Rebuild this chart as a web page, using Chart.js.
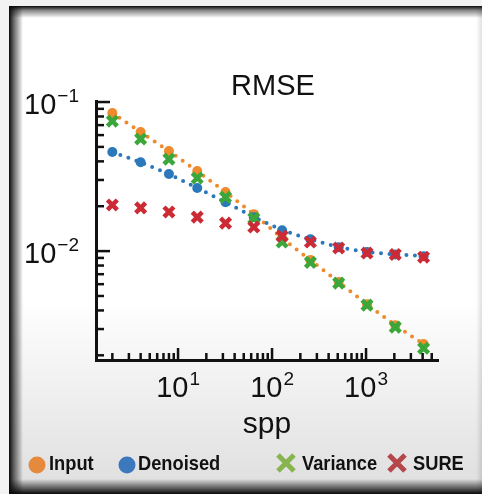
<!DOCTYPE html>
<html>
<head>
<meta charset="utf-8">
<script src="https://cdn.jsdelivr.net/npm/chart.js@4.4.1/dist/chart.umd.min.js"></script>
<style>
  html, body { margin: 0; padding: 0; background: #f3f3f3; }
  canvas { display: block; }
</style>
</head>
<body>
<canvas id="rmse" width="482" height="494"></canvas>
<script>
// samples per pixel, and RMSE per method
const spp = [2, 4, 8, 16, 32, 64, 128, 256, 512, 1024, 2048, 4096];
const inputRmse    = [0.0844, 0.0629, 0.0469, 0.0344, 0.0249, 0.0177, 0.0122, 0.0087, 0.0062, 0.0044, 0.00318, 0.00238];
const denoisedRmse = [0.0462, 0.0395, 0.0329, 0.0265, 0.0213, 0.0169, 0.0138, 0.0120, 0.0106, 0.00985, 0.0095, 0.00925];
const varianceRmse = [0.0745, 0.0565, 0.0414, 0.0309, 0.0230, 0.0166, 0.0115, 0.0084, 0.0061, 0.00434, 0.00309, 0.00223];
const sureRmse     = [0.0204, 0.0195, 0.0183, 0.0169, 0.0154, 0.0145, 0.0126, 0.0115, 0.0105, 0.0097, 0.0095, 0.0091];

const seriesNames = ['Input', 'Denoised', 'Variance', 'SURE'];
const xTickValues = [10, 100, 1000];
const xTickExps   = ['1', '2', '3'];
const yTickValues = [0.1, 0.01];
const yTickExps   = ['\u22121', '\u22122'];

const FONT = '"Liberation Sans", Arial, Helvetica, sans-serif';
const colors = { input: '#ef8b2c', denoised: '#2b78bb', variance: '#3ba73a', sure: '#cc2b36' };
const legendColors = ['#e58a3c', '#3b78bd', '#88b450', '#b5474a'];

const pts = (ys) => spp.map((x, i) => ({ x, y: ys[i] }));

// "10" with a raised exponent
function drawPow(ctx, exp, x, y, align) {
    ctx.font = `29px ${FONT}`;
    const wBase = ctx.measureText('10').width;
    ctx.font = `19px ${FONT}`;
    const wExp = ctx.measureText(exp).width;
    const total = wBase + 1 + wExp;
    const left = align === 'center' ? x - total / 2 : x - total;
    ctx.textAlign = 'left';
    ctx.textBaseline = 'alphabetic';
    ctx.font = `29px ${FONT}`;
    ctx.fillText('10', left, y);
    ctx.font = `19px ${FONT}`;
    ctx.fillText(exp, left + wBase + 1, y - 12);
}

const framePlugin = {
    id: 'frame',
    beforeDraw(chart) {
        const { ctx, width: W, height: H } = chart;
        ctx.save();
        ctx.fillStyle = '#f3f3f3';
        ctx.fillRect(0, 0, W, H);
        let g = ctx.createLinearGradient(0, 300, 0, 482);
        g.addColorStop(0, '#ffffff');
        g.addColorStop(1, '#e0e0e0');
        ctx.fillStyle = g;
        ctx.fillRect(9, 6, W - 9, H - 6);
        // left shadow
        g = ctx.createLinearGradient(9, 0, 23, 0);
        g.addColorStop(0, 'rgba(10,10,10,1)');
        g.addColorStop(0.35, 'rgba(10,10,10,0.6)');
        g.addColorStop(1, 'rgba(10,10,10,0)');
        ctx.fillStyle = g;
        ctx.fillRect(9, 6, 14, H - 6);
        // top shadow
        g = ctx.createLinearGradient(0, 6, 0, 18);
        g.addColorStop(0, 'rgba(10,10,10,1)');
        g.addColorStop(0.35, 'rgba(10,10,10,0.5)');
        g.addColorStop(1, 'rgba(10,10,10,0)');
        ctx.fillStyle = g;
        ctx.fillRect(9, 6, W - 9, 12);
        // bottom shadow
        g = ctx.createLinearGradient(0, H, 0, 479);
        g.addColorStop(0, 'rgba(10,10,10,1)');
        g.addColorStop(0.4, 'rgba(10,10,10,0.6)');
        g.addColorStop(1, 'rgba(10,10,10,0)');
        ctx.fillStyle = g;
        ctx.fillRect(9, 479, W - 9, H - 479);
        // faint right edge
        g = ctx.createLinearGradient(W, 0, W - 6, 0);
        g.addColorStop(0, 'rgba(0,0,0,0.12)');
        g.addColorStop(1, 'rgba(0,0,0,0)');
        ctx.fillStyle = g;
        ctx.fillRect(W - 6, 6, 6, H - 6);
        ctx.restore();
    },
};

const axesPlugin = {
    id: 'axesDecor',
    afterDraw(chart) {
        const { ctx, chartArea: a, scales: { x, y } } = chart;
        ctx.save();
        ctx.strokeStyle = '#111';
        ctx.lineWidth = 2.5;

        // inward ticks, major at each decade
        for (let k = 0; k <= 3; k++) {
            for (let d = 1; d <= 9; d++) {
                const v = d * Math.pow(10, k);
                if (v < x.min || v > x.max) continue;
                const px = x.getPixelForValue(v);
                const len = d === 1 ? 12 : 7;
                ctx.beginPath();
                ctx.moveTo(px, a.bottom);
                ctx.lineTo(px, a.bottom - len);
                ctx.stroke();
            }
        }
        for (let k = -3; k <= -1; k++) {
            for (let d = 1; d <= 9; d++) {
                const v = d * Math.pow(10, k);
                if (v < y.min || v > y.max) continue;
                const py = y.getPixelForValue(v);
                const len = d === 1 ? 14 : 8;
                ctx.beginPath();
                ctx.moveTo(a.left, py);
                ctx.lineTo(a.left + len, py);
                ctx.stroke();
            }
        }

        ctx.fillStyle = '#111';
        xTickValues.forEach((v, i) => drawPow(ctx, xTickExps[i], x.getPixelForValue(v), 397, 'center'));
        yTickValues.forEach((v, i) => drawPow(ctx, yTickExps[i], 79, y.getPixelForValue(v) + 12, 'right'));

        // title and axis label
        ctx.textAlign = 'center';
        ctx.textBaseline = 'alphabetic';
        ctx.font = `29px ${FONT}`;
        ctx.fillText('RMSE', 273, 95);
        ctx.font = `30px ${FONT}`;
        ctx.fillText('spp', (a.left + a.right) / 2, 433);

        // legend
        const items = [
            { kind: 'dot', cx: 37, tx: 49 },
            { kind: 'dot', cx: 127, tx: 138 },
            { kind: 'x', cx: 286, tx: 302 },
            { kind: 'x', cx: 397, tx: 413 },
        ];
        items.forEach((it, i) => {
            ctx.fillStyle = legendColors[i];
            ctx.strokeStyle = legendColors[i];
            if (it.kind === 'dot') {
                ctx.beginPath();
                ctx.arc(it.cx, 465, 8.5, 0, Math.PI * 2);
                ctx.fill();
            } else {
                ctx.lineWidth = 5;
                ctx.beginPath();
                ctx.moveTo(it.cx - 8, 455); ctx.lineTo(it.cx + 8, 471);
                ctx.moveTo(it.cx + 8, 455); ctx.lineTo(it.cx - 8, 471);
                ctx.stroke();
            }
            ctx.save();
            ctx.translate(it.tx, 470);
            ctx.scale(0.87, 1);
            ctx.fillStyle = '#111';
            ctx.textAlign = 'left';
            ctx.font = `bold 21px ${FONT}`;
            ctx.fillText(seriesNames[i], 0, 0);
            ctx.restore();
        });
        ctx.restore();
    },
};

const dotted = (color, data, label) => ({
    label,
    data,
    showLine: true,
    borderColor: color,
    borderWidth: 4,
    borderDash: [0, 8.5],
    borderCapStyle: 'round',
    tension: 0,
    pointStyle: 'circle',
    pointRadius: 5,
    pointBackgroundColor: color,
    pointBorderWidth: 0,
});

const crosses = (color, data, label) => ({
    label,
    data,
    showLine: false,
    pointStyle: 'crossRot',
    pointRadius: 7,
    pointBorderWidth: 4.5,
    pointBorderColor: color,
    pointBackgroundColor: color,
});

// dataset 0 is drawn last (on top)
new Chart(document.getElementById('rmse'), {
    type: 'line',
    data: {
        datasets: [
            crosses(colors.sure, pts(sureRmse), seriesNames[3]),
            crosses(colors.variance, pts(varianceRmse), seriesNames[2]),
            dotted(colors.denoised, pts(denoisedRmse), seriesNames[1]),
            dotted(colors.input, pts(inputRmse), seriesNames[0]),
        ],
    },
    options: {
        responsive: false,
        animation: false,
        layout: { padding: { left: 96, top: 101, right: 44, bottom: 134 } },
        plugins: {
            legend: { display: false },
            tooltip: { enabled: false },
            title: { display: false },
        },
        scales: {
            x: {
                type: 'logarithmic',
                min: 1.34,
                max: 5830,
                ticks: { display: false },
                grid: { display: false, drawTicks: false },
                border: { display: true, color: '#111', width: 3 },
            },
            y: {
                type: 'logarithmic',
                min: 0.00186,
                max: 0.1016,
                ticks: { display: false },
                grid: { display: false, drawTicks: false },
                border: { display: true, color: '#111', width: 3 },
            },
        },
    },
    plugins: [framePlugin, axesPlugin],
});
</script>
</body>
</html>
